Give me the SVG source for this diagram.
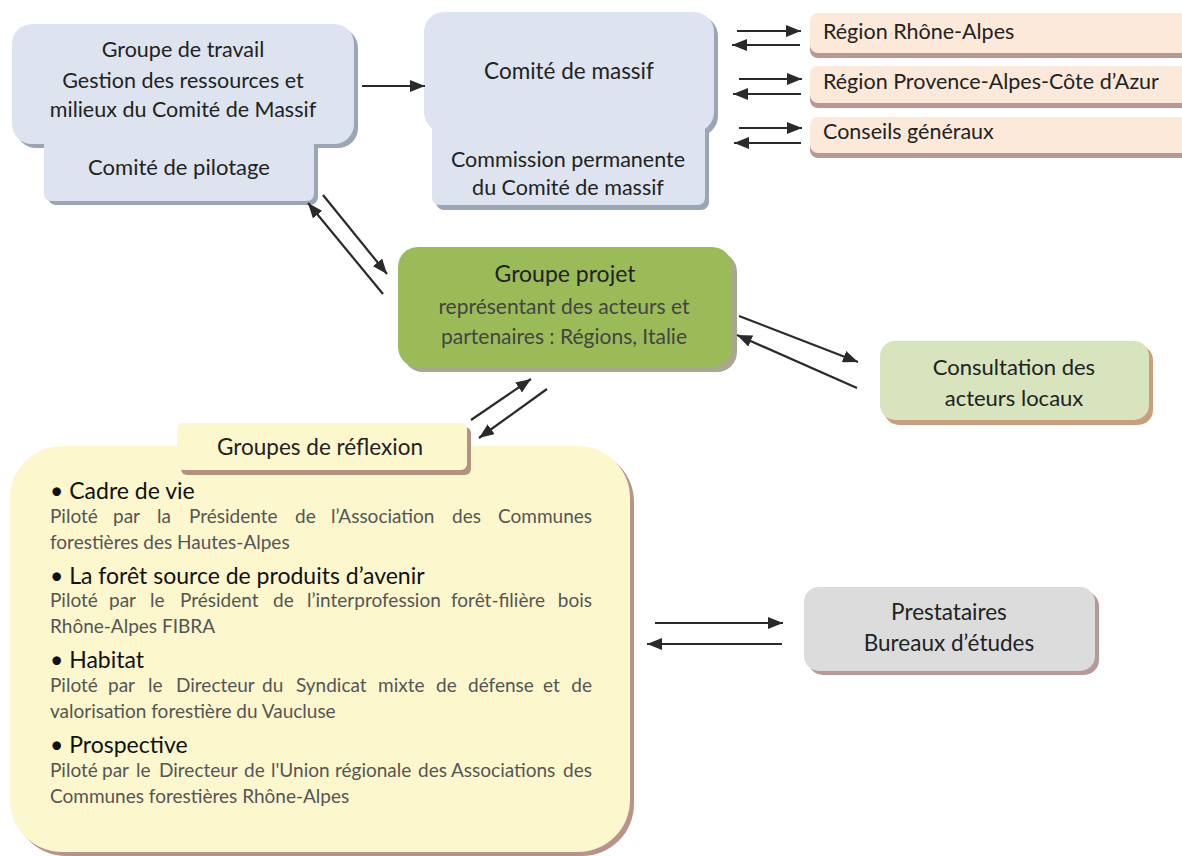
<svg xmlns="http://www.w3.org/2000/svg" width="1182" height="856" viewBox="0 0 1182 856">
<style>
text{font-family:Lato,"Open Sans","Liberation Sans",sans-serif;fill:#222}
.c{text-anchor:middle}
.tb{font-size:21.5px}
.tr{font-size:21.5px}
.b{font-size:23px;fill:#111}
.p{font-size:19px;fill:#555}
.e{text-anchor:end}
.g{fill:#444}
.blue{fill:#dde4f0}.blueS{fill:#9aa5b6}
.reg{fill:#fde9da}.regS{fill:#b89890}
.arr{stroke:#2a2a2a;stroke-width:2.2;fill:none;marker-end:url(#ah)}
</style>
<defs>
<marker id="ah" markerUnits="userSpaceOnUse" markerWidth="16" markerHeight="12" refX="15" refY="6" orient="auto">
<path d="M0,0 L15,6 L0,12 z" fill="#2a2a2a"/>
</marker>
</defs>
<rect width="1182" height="856" fill="#fff"/>

<g id="groupe-travail">
<rect class="blueS" x="16" y="28" width="342" height="120" rx="20"/>
<rect class="blueS" x="48" y="130" width="270" height="75" rx="8"/>
<rect class="blue" x="12" y="24" width="342" height="120" rx="20"/>
<path class="blue" d="M44,130 H314 V193 Q314,201 306,201 H52 Q44,201 44,193 Z"/>
<text class="c tb" x="183" y="57">Groupe de travail</text>
<text class="c tb" x="183" y="88">Gestion des ressources et</text>
<text class="c tb" x="183" y="117">milieux du Comité de Massif</text>
<text class="c" x="179" y="175" font-size="22">Comité de pilotage</text>
</g>

<g id="comite-massif">
<rect class="blueS" x="428" y="16" width="290" height="120" rx="20"/>
<rect class="blueS" x="436" y="120" width="273" height="90" rx="8"/>
<rect class="blue" x="424" y="12" width="290" height="120" rx="20"/>
<path class="blue" d="M432,118 H705 V197 Q705,205 697,205 H440 Q432,205 432,197 Z"/>
<text class="c" x="569" y="79" font-size="22.5">Comité de massif</text>
<text class="c tb" x="568" y="167">Commission permanente</text>
<text class="c tb" x="568" y="195">du Comité de massif</text>
</g>

<g id="region-ra">
<rect class="regS" x="810" y="17" width="380" height="41" rx="8"/>
<rect class="reg" x="810" y="13" width="380" height="40" rx="8"/>
<text class="tr" x="823" y="39">Région Rhône-Alpes</text>
</g>
<g id="region-paca">
<rect class="regS" x="810" y="70" width="380" height="38" rx="8"/>
<rect class="reg" x="810" y="66" width="380" height="37" rx="8"/>
<text class="tr" x="823" y="89">Région Provence-Alpes-Côte d’Azur</text>
</g>
<g id="conseils">
<rect class="regS" x="810" y="121" width="380" height="37" rx="8"/>
<rect class="reg" x="810" y="117" width="380" height="36" rx="8"/>
<text class="tr" x="823" y="139">Conseils généraux</text>
</g>

<g id="groupe-projet">
<rect x="403" y="252" width="334" height="120" rx="20" fill="#a6a88f"/>
<rect x="398" y="247" width="334" height="120" rx="20" fill="#9bbb59"/>
<text class="c" x="565" y="282" font-size="23">Groupe projet</text>
<text class="c g" x="564" y="314" font-size="21">représentant des acteurs et</text>
<text class="c g" x="564" y="344" font-size="21">partenaires : Régions, Italie</text>
</g>

<g id="consultation">
<rect x="884" y="345" width="269" height="80" rx="15" fill="#c99f7e"/>
<rect x="880" y="341" width="269" height="79" rx="15" fill="#d7e4bd"/>
<text class="c" x="1014" y="375" font-size="22">Consultation des</text>
<text class="c" x="1014" y="406" font-size="22">acteurs locaux</text>
</g>

<g id="groupes-reflexion">
<rect x="14" y="450" width="620" height="406" rx="52" fill="#b6948c"/>
<rect x="10" y="446" width="620" height="406" rx="52" fill="#fcf7cd"/>
<rect x="181" y="427" width="290" height="48" rx="6" fill="#b39280"/>
<rect x="177" y="423" width="290" height="47" rx="6" fill="#fcf7cd"/>
<text class="c" x="320" y="455" font-size="22.5">Groupes de réflexion</text>

<text class="b" x="50" y="499">• Cadre de vie</text>
<text class="p" y="523"><tspan x="50">Piloté</tspan><tspan x="113">par</tspan><tspan x="157">la</tspan><tspan x="189">Présidente</tspan><tspan x="295">de</tspan><tspan x="331">l’Association</tspan><tspan x="452">des</tspan></text>
<text class="p e" x="592" y="523">Communes</text>
<text class="p" x="50" y="549">forestières des Hautes-Alpes</text>

<text class="b" x="50" y="584">• La forêt source de produits d’avenir</text>
<text class="p" y="607"><tspan x="50">Piloté</tspan><tspan x="109">par</tspan><tspan x="150">le</tspan><tspan x="180">Président</tspan><tspan x="273">de</tspan><tspan x="307">l’interprofession</tspan><tspan x="451">forêt-filière</tspan></text>
<text class="p e" x="592" y="607">bois</text>
<text class="p" x="50" y="633">Rhône-Alpes FIBRA</text>

<text class="b" x="50" y="668">• Habitat</text>
<text class="p" y="692"><tspan x="50">Piloté</tspan><tspan x="108">par</tspan><tspan x="148">le</tspan><tspan x="176">Directeur</tspan><tspan x="262">du</tspan><tspan x="296">Syndicat</tspan><tspan x="378">mixte</tspan><tspan x="436">de</tspan><tspan x="468">défense</tspan><tspan x="543">et</tspan></text>
<text class="p e" x="592" y="692">de</text>
<text class="p" x="50" y="718">valorisation forestière du Vaucluse</text>

<text class="b" x="50" y="753">• Prospective</text>
<text class="p" y="777"><tspan x="50">Piloté</tspan><tspan x="102">par</tspan><tspan x="136">le</tspan><tspan x="159">Directeur</tspan><tspan x="244">de</tspan><tspan x="271">l'Union</tspan><tspan x="335">régionale</tspan><tspan x="418">des</tspan><tspan x="451">Associations</tspan></text>
<text class="p e" x="592" y="777">des</text>
<text class="p" x="50" y="803">Communes forestières Rhône-Alpes</text>
</g>

<g id="prestataires">
<rect x="808" y="591" width="291" height="84" rx="15" fill="#b7999a"/>
<rect x="804" y="587" width="291" height="84" rx="15" fill="#dcdcdc"/>
<text class="c" x="949" y="620" font-size="22.5">Prestataires</text>
<text class="c" x="949" y="651" font-size="22.5">Bureaux d’études</text>
</g>

<g id="connectors">
<line class="arr" x1="362" y1="86" x2="425" y2="86"/>
<line class="arr" x1="737" y1="31" x2="801" y2="31"/>
<line class="arr" x1="800" y1="45" x2="732" y2="45"/>
<line class="arr" x1="739" y1="79" x2="802" y2="79"/>
<line class="arr" x1="801" y1="94" x2="733" y2="94"/>
<line class="arr" x1="739" y1="128" x2="802" y2="128"/>
<line class="arr" x1="801" y1="143" x2="734" y2="143"/>
<line class="arr" x1="323" y1="195" x2="387" y2="274"/>
<line class="arr" x1="383" y1="294" x2="308" y2="203"/>
<line class="arr" x1="471" y1="420" x2="531" y2="379"/>
<line class="arr" x1="547" y1="389" x2="479" y2="438"/>
<line class="arr" x1="739" y1="316" x2="858" y2="362"/>
<line class="arr" x1="857" y1="388" x2="737" y2="335"/>
<line class="arr" x1="655" y1="623" x2="783" y2="623"/>
<line class="arr" x1="782" y1="644" x2="647" y2="644"/>
</g>
</svg>
